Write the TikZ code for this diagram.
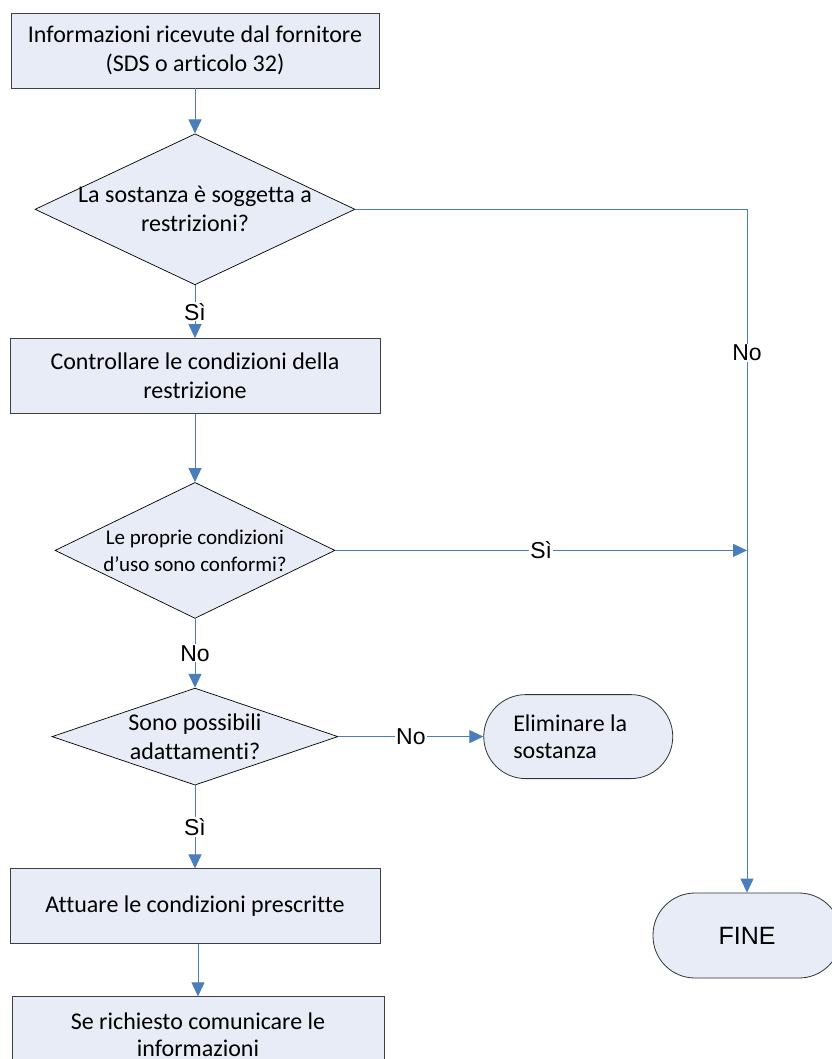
\documentclass[tikz,border=0pt]{standalone}
\usepackage{fontspec}
\setmainfont{Carlito}[Ligatures=CommonOff]
\newfontfamily\arialfont{Liberation Sans}
\usetikzlibrary{positioning,shapes.geometric,arrows.meta}
\definecolor{boxfill}{RGB}{231,236,247}
\definecolor{linkblue}{RGB}{74,126,187}

\begin{document}
\begin{tikzpicture}
[x=1pt, y=-1pt,
font=\fontsize{24}{29}\selectfont,
processnode/.style={rectangle, draw=black!75, fill=boxfill, line width=0.9pt, minimum width=368pt, minimum height=75pt, align=center},
decisionnode/.style={diamond, draw=black, fill=boxfill, line width=0.7pt, aspect=2, inner sep=-14pt, align=center},
endnode/.style={rectangle, rounded corners=42pt, draw=black!80, fill=boxfill, line width=0.8pt, minimum width=189pt, minimum height=84pt},
flow/.style={draw=linkblue, line width=1pt, -{Triangle[length=14pt, width=13pt]}},
answer/.style={fill=white, inner sep=1pt, font=\arialfont\fontsize{23}{28}\selectfont},
]
\useasboundingbox (0,0) rectangle (831,1059);

\node[processnode]	(info) at (195,50.5) {Informazioni ricevute dal fornitore\\(SDS o articolo 32)};
\node[decisionnode, minimum width=320pt, minimum height=151pt]	(restr) [below=45pt of info] {La sostanza è soggetta a\\restrizioni?};
\node[processnode, minimum width=370pt]	(check) [below=53pt of restr] {Controllare le condizioni della\\restrizione};
\node[decisionnode, minimum width=280pt, minimum height=136pt, font=\fontsize{21}{27}\selectfont]	(conf) [below=68pt of check] {Le proprie condizioni\\d’uso sono conformi?};
\node[decisionnode, minimum width=286pt, minimum height=97pt]	(adapt) [below=69pt of conf] {Sono possibili\\adattamenti?};
\node[processnode, minimum width=370pt]	(apply) [below=83pt of adapt] {Attuare le condizioni prescritte};
\node[processnode, minimum width=372pt, font=\fontsize{24}{27}\selectfont]	(inform) [below=52pt of apply, xshift=3pt] {Se richiesto comunicare le\\informazioni};
\node[endnode, text width=130pt, align=flush left, font=\fontsize{24}{27}\selectfont]	(elim) [right=145pt of adapt] {Eliminare la\\sostanza};
\node[endnode, minimum width=188pt, minimum height=85pt, font=\arialfont\fontsize{25}{30}\selectfont]	(fine) at (747,935.5) {FINE};
\coordinate (join) at (conf.east -| fine.north);

\draw[flow] (info) -- (restr);
\draw[flow] (restr) -- (check) node[midway, answer] {Sì};
\draw[flow] (check) -- (conf);
\draw[flow] (conf) -- (adapt) node[midway, answer] {No};
\draw[flow] (adapt) -- (apply) node[midway, answer] {Sì};
\draw[flow] (apply.south -| inform.north) -- (inform.north);
\draw[flow] (adapt) -- (elim) node[midway, answer] {No};
\draw[flow] (restr.east) -| (fine.north) node[pos=0.605, answer] {No};
\draw[flow] (conf.east) -- (join) node[midway, answer] {Sì};
\end{tikzpicture}
\end{document}
